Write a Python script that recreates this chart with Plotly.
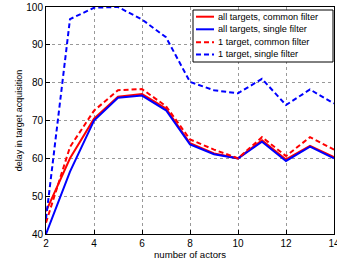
import plotly.graph_objects as go

actors = [2, 3, 4, 5, 6, 7, 8, 9, 10, 11, 12, 13, 14]
all_common = [46, 60, 70.5, 76.3, 77, 73.2, 64, 61.3, 60, 64.8, 59.7, 63.3, 60.3]
all_single = [40, 56.5, 70, 76, 76.6, 72.7, 63.7, 61.1, 60, 64.4, 59.3, 63.1, 60]
one_common = [43, 63, 72.6, 78, 78.3, 73.8, 65, 62.3, 60, 65.6, 60.6, 65.6, 62.3]
one_single = [44, 96.8, 99.8, 100, 96.7, 92, 80.2, 78, 77.2, 81, 74.1, 78.2, 74.5]

names = ["all targets, common filter", "all targets, single filter",
         "1 target, common filter", "1 target, single filter"]
values = [all_common, all_single, one_common, one_single]
colors = ["red", "blue", "red", "blue"]
dashes = ["solid", "solid", "5px,3px", "5px,3px"]

W, H = 337, 265
L, R, T, B = 46, 3, 7, 31
pw, ph = W - L - R, H - T - B

def px(x):
    return (x - L) / pw

def py(y):
    return (H - B - y) / ph

fig = go.Figure()
for name, ys, col, dash in zip(names, values, colors, dashes):
    fig.add_trace(go.Scatter(x=actors, y=ys, mode="lines", name=name, showlegend=False,
                             line=dict(color=col, width=2, dash=dash)))

# custom compact legend (MATLAB style)
shapes = [dict(type="rect", xref="paper", yref="paper",
               x0=px(193), x1=px(333), y0=py(62), y1=py(10),
               line=dict(color="black", width=1), fillcolor="white", layer="above")]
annotations = []
rows = [16.7, 29.3, 42.3, 54.5]
for name, col, dash, ry in zip(names, colors, dashes, rows):
    shapes.append(dict(type="line", xref="paper", yref="paper",
                       x0=px(196), x1=px(214), y0=py(ry), y1=py(ry),
                       line=dict(color=col, width=2, dash=dash), layer="above"))
    annotations.append(dict(text=name, xref="paper", yref="paper", x=px(216), y=py(ry),
                            xanchor="left", yanchor="middle", showarrow=False,
                            font=dict(size=9.2, color="black")))

axis_common = dict(showline=True, linecolor="black", linewidth=1, mirror=True,
                   ticks="inside", ticklen=4, tickcolor="black", automargin=False,
                   ticklabeloverflow="allow",
                   showgrid=True, gridcolor="#999999", griddash="dot", gridwidth=1,
                   zeroline=False, tickfont=dict(size=10, color="black"))

fig.update_layout(
    width=W, height=H,
    margin=dict(l=L, r=R, t=T, b=B),
    paper_bgcolor="white", plot_bgcolor="white",
    font=dict(family="Liberation Sans, Arial, sans-serif", size=10, color="black"),
    xaxis=dict(range=[2, 14], dtick=2, title=dict(text="number of actors", font=dict(size=9.6), standoff=2), **axis_common),
    yaxis=dict(range=[40, 100], dtick=10, title=dict(text="delay in target acquisition", font=dict(size=9), standoff=2), **axis_common),
    shapes=shapes,
    annotations=annotations,
    showlegend=False,
)

fig.write_html("out.html", config={"displayModeBar": False},
               post_script="document.body.style.margin='0px';")
